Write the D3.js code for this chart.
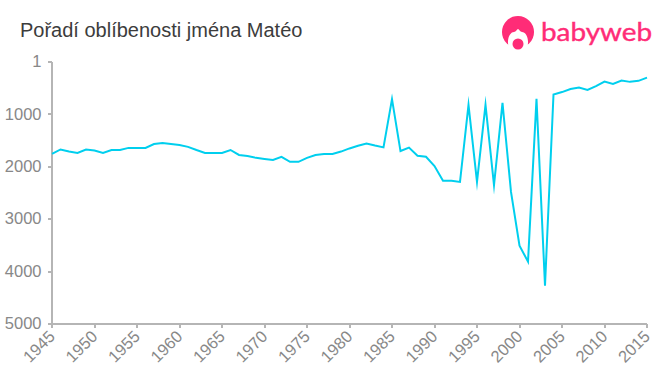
<!DOCTYPE html>
<html>
<head>
<meta charset="utf-8">
<script src="https://cdn.jsdelivr.net/npm/d3@7"></script>
<style>
  html, body { margin: 0; padding: 0; background: #fff; }
  svg { display: block; font-family: "Liberation Sans", Arial, sans-serif; }
  .axis path, .axis line { stroke: #b5b5b5; stroke-width: 2px; fill: none; shape-rendering: crispEdges; }
  .axis text { fill: #888; font-size: 16.5px; }
</style>
</head>
<body>
<svg width="660" height="375"></svg>
<script>
var title = "Pořadí oblíbenosti jména Matéo";
var years = d3.range(1945, 2016);
var ranks = [
  1755, 1670, 1710, 1735, 1670, 1690, 1735, 1680, 1680, 1640,
  1640, 1640, 1565, 1545, 1565, 1585, 1620, 1680, 1735, 1735,
  1735, 1680, 1775, 1795, 1830, 1850, 1870, 1810, 1905, 1905,
  1830, 1775, 1755, 1755, 1710, 1650, 1600, 1555, 1595, 1630,
  710, 1700, 1635, 1790, 1810, 1985, 2265, 2265, 2290, 820,
  2290, 820, 2350, 780, 2480, 3505, 3810, 705, 4270, 620,
  575, 515, 490, 535, 460, 375, 420, 355, 380, 360,
  300
];
var xTicks = d3.range(1945, 2016, 5);
var yTicks = [1, 1000, 2000, 3000, 4000, 5000];

var svg = d3.select("svg");

var x = d3.scaleLinear().domain([1945, 2015]).range([51.5, 646.5]);
var y = d3.scaleLinear().domain([1, 5000]).range([61.5, 323.5]);

svg.append("text")
  .attr("x", 20)
  .attr("y", 37)
  .attr("fill", "#3c3c3c")
  .style("font-size", "20px")
  .text(title);

// axes
var xAxis = svg.append("g")
  .attr("class", "axis")
  .attr("transform", "translate(0,323.5)")
  .call(d3.axisBottom(x).tickValues(xTicks).tickFormat(d3.format("d")).tickSize(4).tickSizeOuter(0));

xAxis.selectAll("text")
  .attr("text-anchor", "end")
  .attr("dx", 0)
  .attr("dy", 0)
  .attr("transform", "translate(-1,9) rotate(-45)");

svg.append("g")
  .attr("class", "axis")
  .attr("transform", "translate(51.5,0)")
  .call(d3.axisLeft(y).tickValues(yTicks).tickFormat(d3.format("d")).tickSize(4).tickPadding(6).tickSizeOuter(0));

// line, same half pixel offset as the axes
var line = d3.line()
  .x(function (d, i) { return x(years[i]); })
  .y(function (d) { return y(d); });

svg.append("path")
  .datum(ranks)
  .attr("d", line)
  .attr("transform", "translate(0.5,0.5)")
  .attr("fill", "none")
  .attr("stroke", "#00cfee")
  .attr("stroke-width", 2)
  .attr("stroke-miterlimit", 10);

// logo
var logo = svg.append("g").attr("transform", "translate(518,32)");
logo.append("circle").attr("r", 16).attr("fill", "#ff2c77");
logo.append("path")
  .attr("d", "M-9,17 C-12,7 -8,0 -4,0 C-2,0 -1,-3 0,-3 C1,-3 2,0 4,0 C8,0 12,7 9,17 Z")
  .attr("fill", "#fff");
logo.append("circle").attr("cy", 12).attr("r", 5.5).attr("fill", "#ff2c77");

svg.append("text")
  .attr("x", 541)
  .attr("y", 41)
  .attr("fill", "#ff2c77")
  .attr("stroke", "#ff2c77")
  .attr("stroke-width", 0.4)
  .attr("textLength", 111)
  .attr("lengthAdjust", "spacingAndGlyphs")
  .style("font-family", "Lato, 'Noto Sans', sans-serif")
  .style("font-size", "25px")
  .text("babyweb");
</script>
</body>
</html>
